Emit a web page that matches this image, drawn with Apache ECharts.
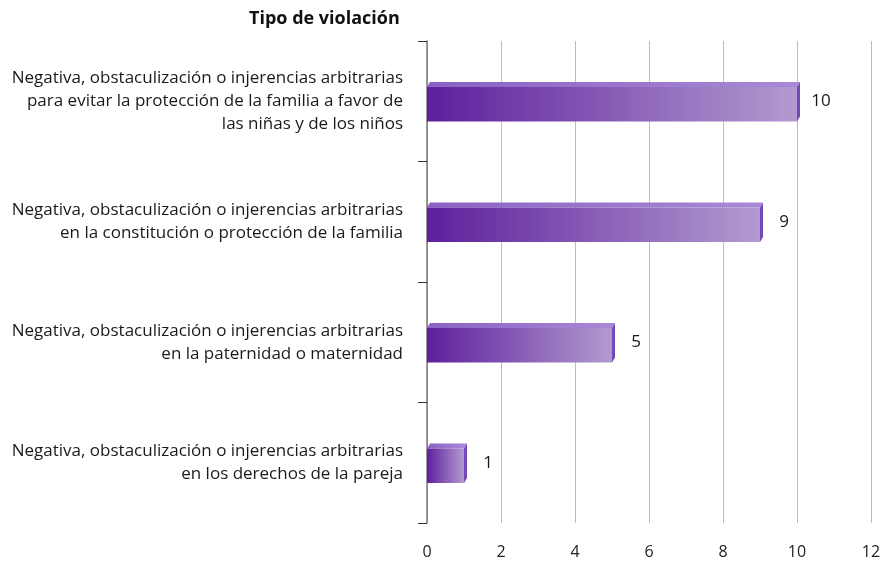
<!DOCTYPE html>
<html><head><meta charset="utf-8">
<script src="https://cdn.jsdelivr.net/npm/echarts@6/dist/echarts.min.js"></script>
<style>html,body{margin:0;padding:0;background:#fff}#c{width:884px;height:563px}</style>
</head><body><div id="c"></div>
<script>
const categories = [
  "Negativa, obstaculización o injerencias arbitrarias\npara evitar la protección de la familia a favor de\nlas niñas y de los niños",
  "Negativa, obstaculización o injerencias arbitrarias\nen la constitución o protección de la familia",
  "Negativa, obstaculización o injerencias arbitrarias\nen la paternidad o maternidad",
  "Negativa, obstaculización o injerencias arbitrarias\nen los derechos de la pareja"
];
const values = [10, 9, 5, 1];
const xTicks = [0, 2, 4, 6, 8, 10, 12];
const axisTitle = "Tipo de violación";

const chart = echarts.init(document.getElementById('c'), null, {renderer: 'canvas'});
const FONT = "'Open Sans', 'Noto Sans', sans-serif";

function renderItem(params, api) {
  const v = api.value(0), ci = api.value(1);
  const p0 = api.coord([0, ci]);
  const p1 = api.coord([v, ci]);
  const band = api.size([0, 1])[1];
  const h = band * 0.285;
  const dx = 3, dy = 5;
  const cy = p0[1] + 3;
  const yT = cy - h / 2, yB = cy + h / 2;
  const x0 = p0[0], x1 = p1[0];
  return {
    type: 'group',
    children: [
      {
        type: 'polygon',
        shape: {points: [[x0, yT], [x0 + dx, yT - dy], [x1 + dx, yT - dy], [x1, yT]]},
        style: {fill: new echarts.graphic.LinearGradient(0, 0, 1, 0, [
          {offset: 0, color: '#8a62c4'}, {offset: 1, color: '#a889d6'}])}
      },
      {
        type: 'polygon',
        shape: {points: [[x1, yT], [x1 + dx, yT - dy], [x1 + dx, yB - dy], [x1, yB]]},
        style: {fill: '#7448b8'}
      },
      {
        type: 'rect',
        shape: {x: x0, y: yT, width: x1 - x0, height: yB - yT},
        style: {fill: new echarts.graphic.LinearGradient(0, 0, 1, 0, [
          {offset: 0, color: '#5e1f9c'}, {offset: 1, color: '#b29bd0'}])}
      },
      {
        type: 'text',
        style: {
          x: x1 + dx + 21, y: cy - 3, text: String(v),
          fill: '#1a1a1a', font: '17px ' + FONT,
          align: 'center', verticalAlign: 'middle'
        }
      }
    ]
  };
}

chart.setOption({
  animation: false,
  title: {
    text: axisTitle, left: 244, top: 5,
    textStyle: {fontFamily: FONT, fontSize: 18, fontWeight: 'bold', color: '#111'}
  },
  grid: {left: 427, right: 13, top: 41, bottom: 40, containLabel: false},
  xAxis: {
    type: 'value', min: xTicks[0], max: xTicks[xTicks.length - 1], interval: 2,
    axisLine: {show: false}, axisTick: {show: false},
    splitLine: {show: true, lineStyle: {color: '#bdbdbd', width: 1}},
    axisLabel: {margin: 21, color: '#222', fontFamily: FONT, fontSize: 16}
  },
  yAxis: {
    type: 'category', data: categories, inverse: true,
    axisLine: {show: true, lineStyle: {color: '#7a7a7a', width: 1.5}},
    axisTick: {show: true, length: 9, lineStyle: {color: '#333'}},
    splitLine: {show: false},
    axisLabel: {margin: 24, color: '#1a1a1a', fontFamily: FONT, fontSize: 17, lineHeight: 23, align: 'right'}
  },
  series: [{
    type: 'custom',
    renderItem: renderItem,
    encode: {x: 0, y: 1},
    data: values.map((v, i) => [v, i]),
    z: 3
  }]
});
</script></body></html>
